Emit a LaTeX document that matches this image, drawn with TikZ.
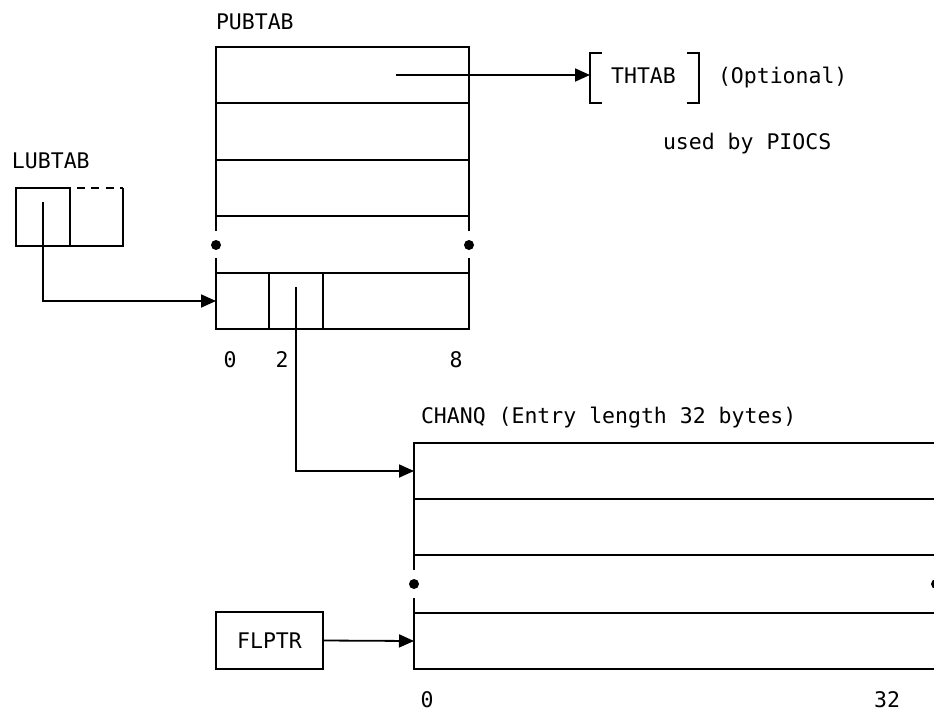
\documentclass[tikz,border=0pt]{standalone}
\usepackage{fontspec}
\setmonofont{DejaVu Sans Mono}
\usetikzlibrary{arrows.meta}
\begin{document}
\begin{tikzpicture}[x=1pt,y=-1pt,line width=1.8pt,
  every node/.style={font=\ttfamily\fontsize{21.5}{24}\selectfont,inner sep=0pt,outer sep=0pt},
  cell/.style={draw,anchor=north west,minimum width=#1,minimum height=56.33pt},
  ghost/.style={anchor=north west,minimum width=#1,minimum height=58pt},
  arr/.style={-{Triangle[length=15pt,width=13pt]}},
  dot/.style={circle,fill,minimum size=10pt}]
\useasboundingbox (0,0) rectangle (934,715);

% PUBTAB
\node[anchor=base west] (publbl) at (216,29) {PUBTAB};
\node[cell=253pt] (pub1) at (216,47) {};
\node[cell=253pt] (pub2) at (216,103.33) {};
\node[cell=253pt] (pub3) at (216,159.67) {};
\draw (pub3.south west) -- ++(0,15);
\draw (pub3.south east) -- ++(0,15);
\node[dot] (pd1) at (216,245) {};
\node[dot] (pd2) at (469,245) {};
\node[cell=53pt,minimum height=56pt] (f0) at (216,273) {};
\node[cell=54pt,minimum height=56pt] (f1) at (269,273) {};
\node[cell=146pt,minimum height=56pt] (f2) at (323,273) {};
\draw (f0.north west) -- ++(0,-15);
\draw (f2.north east) -- ++(0,-15);
\node[anchor=base] (n0) at (230,367) {0};
\node[anchor=base] (n2) at (282,367) {2};
\node[anchor=base] (n8) at (456,367) {8};

% THTAB
\coordinate (p1) at (396,75);
\node[anchor=base] (thtab) at (643.5,83) {THTAB};
\coordinate (thl) at (590,75);
\draw (602,53) -- (590,53) -- (590,103) -- (602,103);
\draw (687,53) -- (699,53) -- (699,103) -- (687,103);
\draw[arr] (p1) -- (thl);
\node[anchor=base west] (opt) at (718,83) {(Optional)};
\node[anchor=base west] (used) at (663,149) {used by PIOCS};

% LUBTAB
\node[anchor=base west] (lublbl) at (12,168) {LUBTAB};
\node[draw,ghost=54pt] (l1) at (16,188) {};
\node[ghost=53pt] (l2) at (70,188) {};
\draw (l2.north east) -- (l2.south east) -- (l2.south west);
\draw[dash pattern=on 8pt off 6.5pt,dash phase=8pt] (l2.north west) -- (l2.north east);
\coordinate (lptr) at (43,202);
\draw[arr] (lptr) |- (f0.west);

% CHANQ
\node[anchor=base west] (chlbl) at (421,423) {CHANQ (Entry length 32 bytes)};
\node[cell=522pt,minimum height=56pt] (c1) at (414,443) {};
\node[cell=522pt,minimum height=56pt] (c2) at (414,499) {};
\draw (c2.south west) -- ++(0,15);
\draw (c2.south east) -- ++(0,15);
\node[dot] (cd1) at (414,584) {};
\node[dot] (cd2) at (936,584) {};
\node[cell=522pt,minimum height=56pt] (c3) at (414,613) {};
\draw (c3.north west) -- ++(0,-15);
\draw (c3.north east) -- ++(0,-15);
\node[anchor=base] (m0) at (427,707) {0};
\node[anchor=base] (m32) at (887,707) {32};

\coordinate (fptr) at (296,287);
\draw[arr] (fptr) |- (c1.west);

% FLPTR
\node[draw,minimum width=107pt,minimum height=57pt] (flptr) at (269.5,640.5) {FLPTR};
\draw[arr] (flptr.east) -- (c3.west);
\end{tikzpicture}
\end{document}
